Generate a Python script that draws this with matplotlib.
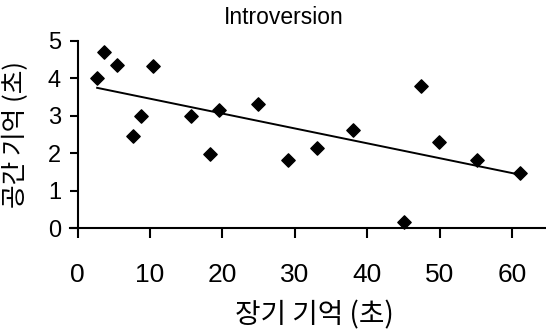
import numpy as np
import matplotlib.pyplot as plt

plt.rcParams['font.family'] = ['Liberation Sans', 'DejaVu Sans']

# values
long_term = [2.7, 3.6, 5.5, 7.6, 8.7, 10.4, 15.6, 18.3, 19.6, 24.9,
             29.1, 33.1, 38.0, 45.1, 47.5, 49.9, 55.1, 61.1]
spatial = [4.0, 4.7, 4.35, 2.47, 2.99, 4.33, 2.99, 1.99, 3.16, 3.31,
           1.81, 2.15, 2.63, 0.17, 3.8, 2.31, 1.82, 1.48]
x_ticks = [0, 10, 20, 30, 40, 50, 60]
y_ticks = [0, 1, 2, 3, 4, 5]

fig = plt.figure(figsize=(5.46, 3.32), dpi=100)
ax = fig.add_axes([70 / 546, 0.3123, 476 / 546, 0.5651])

ax.scatter(long_term, spatial, marker='D', s=46, color='black', zorder=3, clip_on=False)

# linear trend line
slope, icpt = np.polyfit(long_term, spatial, 1)
xs = np.array([min(long_term), max(long_term)])
ax.plot(xs, slope * xs + icpt, color='black', lw=1.4)

ax.set_xlim(-1.05, 64.7)
ax.set_ylim(0, 5)
ax.set_xticks(x_ticks)
ax.set_yticks(y_ticks)

for s in ['top', 'right']:
    ax.spines[s].set_visible(False)
ax.spines['left'].set_position(('data', 0))
ax.spines['left'].set_linewidth(1.5)
ax.spines['bottom'].set_linewidth(1.5)

ax.tick_params(axis='x', direction='out', length=7, width=1.5, labelsize=19, pad=18)
ax.tick_params(axis='y', direction='out', length=6, width=1.5, labelsize=17, pad=6)

fig.text(284 / 546, 1 - 17 / 332, 'Introversion', ha='center', va='center', fontsize=16.5)
fig.text(314 / 546, 1 - 315 / 332, '장기 기억 (초)', ha='center', va='center',
         fontsize=20, family=['Noto Sans CJK KR', 'DejaVu Sans'])
fig.text(16 / 546, 1 - 134 / 332, '공간 기억 (초)', ha='center', va='center', rotation=90,
         fontsize=18.5, family=['Noto Sans CJK KR', 'DejaVu Sans'])

fig.savefig('out.png', dpi=100)
